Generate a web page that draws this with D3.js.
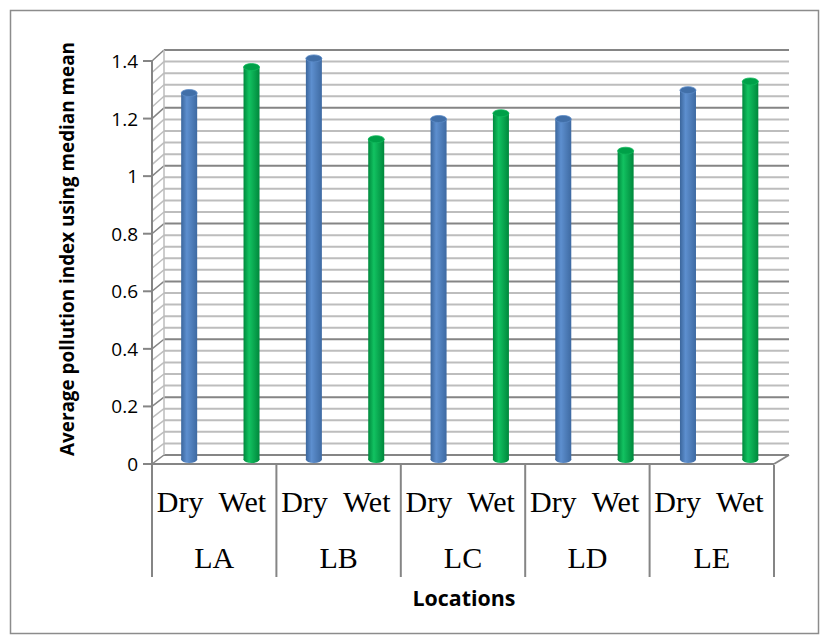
<!DOCTYPE html>
<html><head><meta charset="utf-8">
<script src="https://cdn.jsdelivr.net/npm/d3@7"></script>
<style>body{margin:0;background:#fff}svg{display:block}</style>
</head><body>
<svg id="c" width="821" height="644"></svg>
<script>
const locations = ["LA","LB","LC","LD","LE"];
const seasons = ["Dry","Wet"];
const dryValues = [1.27, 1.39, 1.18, 1.18, 1.28];
const wetValues = [1.36, 1.11, 1.20, 1.07, 1.31];
const yTicks = [0, 0.2, 0.4, 0.6, 0.8, 1, 1.2, 1.4];
const yTitle = "Average pollution index using median mean";
const xTitle = "Locations";

const svg = d3.select("#c");
const cats = [];
locations.forEach((l,i)=>{ cats.push({loc:l, s:"Dry", v:dryValues[i], key:l+"-Dry"}); cats.push({loc:l, s:"Wet", v:wetValues[i], key:l+"-Wet"}); });
const keys = cats.map(d=>d.key);

const yFront = d3.scaleLinear().domain([0,1.4]).range([464,61]);
const yBack = d3.scaleLinear().domain([0,1.4]).range([455,50]);
const yMid = d3.scaleLinear().domain([0,1.4]).range([459.5,55.5]);
const xFront = d3.scaleBand().domain(keys).range([152,774]);
const xMid = d3.scaleBand().domain(keys).range([158,781.5]);
const xGroup = d3.scaleBand().domain(locations).range([152,774]);

// outer border
svg.append("rect").attr("x",10.5).attr("y",10.5).attr("width",808).attr("height",623)
  .attr("fill","none").attr("stroke","#8c8c8c").attr("stroke-width",1.5);

const minor = d3.range(0, 1.4001, 0.04).map(v=>+v.toFixed(2));
const isMajor = v => Math.abs(v*5 - Math.round(v*5)) < 1e-6;

// back wall gridlines
const g = svg.append("g");
minor.forEach(v=>{
  const maj = isMajor(v);
  g.append("line").attr("x1",164).attr("x2",789).attr("y1",yBack(v)).attr("y2",yBack(v))
    .attr("stroke", maj ? "#858585" : "#bdbdbd").attr("stroke-width", 2);
  g.append("line").attr("x1",152).attr("x2",164).attr("y1",yFront(v)).attr("y2",yBack(v))
    .attr("stroke", maj ? "#858585" : "#bdbdbd").attr("stroke-width", 1.5);
});
// left wall back edge
g.append("line").attr("x1",164).attr("x2",164).attr("y1",yBack(0)).attr("y2",yBack(1.4)).attr("stroke","#bdbdbd").attr("stroke-width",1.5);
// floor
g.append("line").attr("x1",152).attr("x2",774).attr("y1",464).attr("y2",464).attr("stroke","#858585").attr("stroke-width",2);
g.append("line").attr("x1",774).attr("x2",789).attr("y1",464).attr("y2",yBack(0)).attr("stroke","#858585").attr("stroke-width",2);

// front axis
const axisG = svg.append("g");
axisG.append("line").attr("x1",152).attr("x2",152).attr("y1",yFront(1.4)).attr("y2",577).attr("stroke","#858585").attr("stroke-width",2);
yTicks.forEach(v=>{
  axisG.append("line").attr("x1",143).attr("x2",152).attr("y1",yFront(v)).attr("y2",yFront(v)).attr("stroke","#858585").attr("stroke-width",2);
  axisG.append("text").attr("x",138).attr("y",yFront(v)).attr("text-anchor","end").attr("dominant-baseline","central")
    .attr("font-family","'Open Sans', sans-serif").attr("font-size",19).attr("fill","#000").text(d3.format("")(v));
});

// group separators
locations.forEach(l=>{
  const x = xGroup(l)+xGroup.bandwidth();
  axisG.append("line").attr("x1",x).attr("x2",x).attr("y1",465).attr("y2",577).attr("stroke","#858585").attr("stroke-width",2);
});

// gradients
const defs = svg.append("defs");
function grad(id, c0, c1, c2){
  const lg = defs.append("linearGradient").attr("id",id).attr("x1","0%").attr("x2","100%").attr("y1","0%").attr("y2","0%");
  lg.append("stop").attr("offset","0%").attr("stop-color",c0);
  lg.append("stop").attr("offset","35%").attr("stop-color",c1);
  lg.append("stop").attr("offset","100%").attr("stop-color",c2);
}
grad("gDry","#3b669c","#5d8fcf","#3e6aa2");
grad("gWet","#00893d","#12c261","#00883c");

// bars
const bw = 16, ry = 3.5;
const bars = svg.append("g");
cats.forEach(d=>{
  const cx = xMid(d.key) + xMid.bandwidth()/2;
  const fill = d.s==="Dry" ? "url(#gDry)" : "url(#gWet)";
  const top = yMid(d.v), bot = yMid(0);
  bars.append("ellipse").attr("cx",cx).attr("cy",bot).attr("rx",bw/2).attr("ry",ry).attr("fill",fill);
  bars.append("rect").attr("x",cx-bw/2).attr("y",top).attr("width",bw).attr("height",bot-top).attr("fill",fill);
  bars.append("ellipse").attr("cx",cx).attr("cy",top).attr("rx",bw/2).attr("ry",ry)
    .attr("fill", d.s==="Dry" ? "#416fa8" : "#00a048")
    .attr("stroke", d.s==="Dry" ? "#5a8ac6" : "#10b85a").attr("stroke-width",0.8);
});

// category labels
const serif = "'Liberation Serif','Times New Roman',serif";
cats.forEach(d=>{
  svg.append("text").attr("x", xFront(d.key)+xFront.bandwidth()/2 - 3).attr("y",512)
    .attr("text-anchor","middle").attr("font-family",serif).attr("font-size",30).attr("fill","#000").text(d.s);
});
locations.forEach(l=>{
  svg.append("text").attr("x", xGroup(l)+xGroup.bandwidth()/2).attr("y",568)
    .attr("text-anchor","middle").attr("font-family",serif).attr("font-size",30).attr("fill","#000").text(l);
});

// titles
function fit(sel, target){
  const w = sel.node().getComputedTextLength();
  const fs = parseFloat(sel.attr("font-size"));
  sel.attr("font-size", fs*target/w);
}
const xt = svg.append("text").attr("x",464).attr("y",606).attr("text-anchor","middle")
  .attr("font-family","'Open Sans',sans-serif").attr("font-weight","bold").attr("font-size",20).attr("fill","#000").text(xTitle);
fit(xt, 103);
const yt = svg.append("text").attr("transform","translate(74,249) rotate(-90)").attr("text-anchor","middle")
  .attr("font-family","'Open Sans',sans-serif").attr("font-weight","bold").attr("font-size",18).attr("fill","#000").text(yTitle);
fit(yt, 414);
</script>
</body></html>
